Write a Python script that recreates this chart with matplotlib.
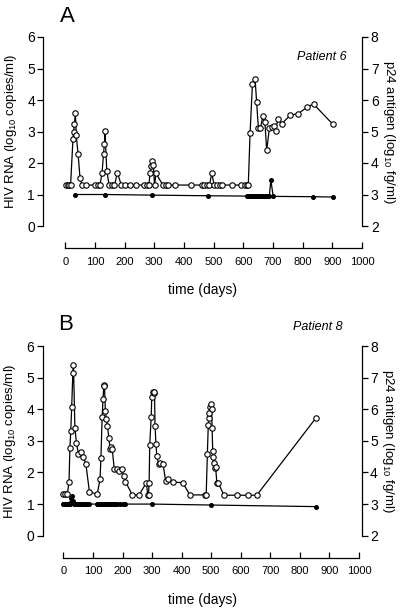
import matplotlib
matplotlib.use("Agg")
import matplotlib.pyplot as plt

plt.rcParams['font.family'] = ['Liberation Sans', 'DejaVu Sans']
plt.rcParams['mathtext.fontset'] = 'custom'
plt.rcParams['mathtext.rm'] = 'Liberation Sans'
plt.rcParams['mathtext.it'] = 'Liberation Sans:italic'

# Patient 6 - HIV RNA (log10 copies/ml)
a_rna_days = [3, 8, 13, 18, 26, 28, 31, 34, 37, 43, 50, 57, 70, 101, 109, 117,
              124, 129, 132, 134, 140, 148, 158, 166, 176, 189, 202, 219, 239,
              266, 275, 282, 286, 290, 293, 297, 301, 306, 329, 338, 348, 371,
              424, 461, 469, 478, 486, 494, 502, 510, 520, 529, 562, 592, 606,
              612, 617, 623, 631, 640, 645, 651, 658, 666, 673, 679, 688, 696,
              703, 709, 717, 730, 758, 786, 816, 837, 902]
a_rna = [1.3, 1.3, 1.3, 1.3, 2.76, 2.98, 3.24, 3.58, 2.90, 2.30, 1.51, 1.3, 1.3,
         1.3, 1.3, 1.3, 1.68, 2.29, 2.60, 3.02, 1.75, 1.3, 1.3, 1.3, 1.69, 1.3,
         1.3, 1.3, 1.3, 1.3, 1.3, 1.3, 1.69, 1.90, 2.06, 1.93, 1.30, 1.67, 1.3,
         1.3, 1.3, 1.3, 1.3, 1.3, 1.3, 1.3, 1.3, 1.67, 1.3, 1.3, 1.3, 1.3, 1.3,
         1.3, 1.3, 1.3, 1.3, 2.94, 4.51, 4.66, 3.95, 3.11, 3.11, 3.49, 3.29,
         2.40, 3.10, 3.15, 3.18, 3.01, 3.41, 3.25, 3.51, 3.57, 3.78, 3.87, 3.23]

# Patient 6 - p24 antigen (log10 fg/ml)
a_p24_days = [34, 135, 294, 481, 612, 617, 622, 627, 632, 637, 642, 647, 652,
              657, 662, 667, 672, 677, 682, 688, 693, 701, 835, 902]
a_p24 = [3.0, 3.0, 2.98, 2.96, 2.95, 2.95, 2.95, 2.95, 2.95, 2.95, 2.95, 2.95,
         2.95, 2.95, 2.95, 2.95, 2.95, 2.95, 2.95, 2.95, 3.46, 2.94, 2.93, 2.92]

# Patient 8 - HIV RNA (log10 copies/ml)
b_rna_days = [0, 6, 13, 19, 22, 25, 28, 32, 34, 39, 44, 51, 60, 68, 76, 88, 114,
              124, 127, 131, 134, 137, 139, 142, 145, 149, 154, 158, 161, 165,
              172, 180, 189, 198, 204, 210, 233, 256, 281, 285, 288, 290, 292,
              297, 299, 302, 305, 308, 310, 313, 316, 322, 327, 337, 346, 355,
              372, 403, 428, 479, 483, 487, 490, 492, 494, 496, 498, 501, 503,
              505, 507, 509, 512, 515, 519, 523, 543, 586, 626, 654, 853]
b_rna = [1.31, 1.31, 1.31, 1.69, 2.77, 3.31, 4.06, 5.16, 5.41, 3.40, 2.94, 2.59,
         2.64, 2.49, 2.27, 1.39, 1.31, 1.78, 2.47, 3.74, 4.32, 4.78, 4.75, 3.94,
         3.70, 3.47, 3.08, 2.75, 2.79, 2.75, 2.12, 2.10, 2.05, 2.12, 1.89, 1.71,
         1.29, 1.29, 1.68, 1.29, 1.29, 1.68, 2.87, 3.76, 4.40, 4.56, 4.52, 4.56,
         3.48, 2.91, 2.52, 2.27, 2.29, 2.27, 1.72, 1.80, 1.69, 1.68, 1.29, 1.29,
         1.29, 2.59, 3.50, 3.72, 3.88, 4.06, 4.18, 4.02, 3.40, 2.69, 2.50, 2.29,
         2.13, 2.16, 1.68, 1.68, 1.28, 1.28, 1.28, 1.28, 3.71]

# Patient 8 - p24 antigen (log10 fg/ml)
b_p24_days = [0, 3, 6, 9, 12, 15, 18, 21, 24, 27, 30, 33, 36, 40, 44, 48, 52,
              56, 60, 66, 72, 80, 88, 113, 117, 121, 125, 129, 133, 137, 141,
              145, 149, 153, 157, 161, 165, 169, 173, 178, 183, 190, 200, 209,
              300, 500, 853]
b_p24 = [3.0, 3.0, 3.0, 3.0, 3.0, 3.0, 3.0, 3.0, 3.05, 3.2, 3.25, 3.1, 3.0, 3.0,
         3.0, 3.0, 3.0, 3.0, 3.0, 3.0, 3.0, 3.0, 3.0, 3.0, 3.0, 3.0, 3.0, 3.0,
         3.0, 3.0, 3.0, 3.0, 3.0, 3.0, 3.0, 3.0, 3.0, 3.0, 3.0, 3.0, 3.0, 3.0,
         3.0, 3.0, 3.0, 2.97, 2.92]

day_ticks = list(range(0, 1001, 100))
rna_ticks = [0, 1, 2, 3, 4, 5, 6]
p24_ticks = [2, 3, 4, 5, 6, 7, 8]

W, H = 402, 609
fig = plt.figure(figsize=(W / 100, H / 100), dpi=100)


def panel(rect, xlim, days, rna, pdays, p24, letter, letter_xy, patient, patient_xy):
    l, t, r, b = rect
    ax = fig.add_axes([l / W, 1 - b / H, (r - l) / W, (b - t) / H])
    ax.plot(days, rna, '-o', color='k', lw=0.9, ms=3.9, mfc='white', mec='k',
            mew=0.8, zorder=3, clip_on=False)
    ax.set_xlim(*xlim)
    ax.set_ylim(0, 6)
    ax.set_yticks(rna_ticks)
    ax.set_xticks(day_ticks)
    for s in ['top', 'right']:
        ax.spines[s].set_visible(False)
    ax.spines['bottom'].set_position(('outward', 16))
    ax.spines['bottom'].set_bounds(0, 1000)
    for s in ['left', 'bottom']:
        ax.spines[s].set_linewidth(0.9)
    ax.tick_params(axis='x', direction='in', length=4, width=0.9, pad=6, labelsize=8)
    ax.tick_params(axis='y', direction='out', length=4, width=0.9, pad=2, labelsize=10)
    ax.set_xlabel('time (days)', fontsize=10, labelpad=12)
    ax.set_ylabel('HIV RNA (log$_{10}$ copies/ml)', fontsize=9.5, labelpad=6)

    ax2 = ax.twinx()
    ax2.plot(pdays, p24, '-o', color='k', lw=0.9, ms=2.6, zorder=2)
    ax2.set_ylim(2, 8)
    ax2.set_yticks(p24_ticks)
    for s in ['top', 'bottom', 'left']:
        ax2.spines[s].set_visible(False)
    ax2.spines['right'].set_linewidth(0.9)
    ax2.tick_params(axis='y', direction='out', length=4, width=0.9, pad=2, labelsize=10)
    ax2.set_ylabel('p24 antigen (log$_{10}$ fg/ml)', fontsize=9.5, rotation=270,
                   labelpad=13)

    fig.text(letter_xy[0] / W, 1 - letter_xy[1] / H, letter, fontsize=16,
             ha='center', va='center')
    fig.text(patient_xy[0] / W, 1 - patient_xy[1] / H, patient, fontsize=9,
             style='italic', ha='right', va='center')


panel((43.3, 37, 362.5, 226), (-74, 1002), a_rna_days, a_rna, a_p24_days, a_p24,
      'A', (67.7, 16), 'Patient 6', (346.7, 57))
panel((42.7, 346, 361.7, 535.7), (-70, 1009), b_rna_days, b_rna, b_p24_days, b_p24,
      'B', (65.5, 325), 'Patient 8', (342.7, 327))

fig.savefig('out.png', dpi=100)
